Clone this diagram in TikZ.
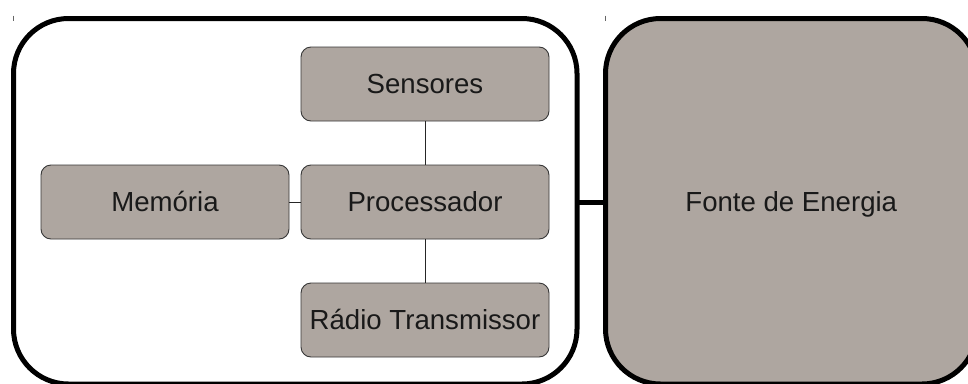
\documentclass[tikz,border=0pt]{standalone}
\usepackage{fontspec}
\setmainfont{Liberation Sans}
\definecolor{boxfill}{RGB}{174,166,160}
\definecolor{boxline}{RGB}{55,55,55}
\begin{document}
\begin{tikzpicture}[x=1pt,y=-1pt,
  outerbox/.style={draw=black, line width=5pt, rounded corners=55pt, outer sep=0pt, inner sep=0pt},
  labeltext/.style={font=\fontsize{27.6}{32}\selectfont, text=black!90, text height=19.8pt, text depth=0pt},
  innerbox/.style={draw=boxline, fill=boxfill, line width=0.9pt, rounded corners=10pt,
    minimum width=248pt, minimum height=74pt, outer sep=0pt, inner sep=0pt, labeltext},
  thinlink/.style={draw=black!85, line width=0.9pt},
  thicklink/.style={draw=black, line width=5pt},
  tick/.style={draw=black!60, line width=0.8pt}]
\useasboundingbox (0,0) rectangle (968,383);
\clip (0,0) rectangle (968,383);
\fill[white] (0,0) rectangle (968,383);
% outer containers
\node[outerbox, minimum width=563.5pt, minimum height=365.5pt] (node) at (295.25,201.25) {};
\node[outerbox, fill=boxfill, minimum width=371.5pt, minimum height=365.5pt, labeltext] (power) at (791.25,201.25) {Fonte de Energia};
% inner components
\node[innerbox] (sens) at (425,84) {Sensores};
\node[innerbox] (proc) at (425,202) {Processador};
\node[innerbox] (mem) at (165,202) {Memória};
\node[innerbox] (radio) at (425,320) {Rádio Transmissor};
% links
\draw[thinlink] (sens.south) -- (proc.north);
\draw[thinlink] (proc.south) -- (radio.north);
\draw[thinlink] (mem.east) -- (proc.west);
\draw[thicklink] (node.east |- proc.center) -- (power.west |- proc.center);
% corner ticks
\coordinate (t1a) at (13.5,15.5);
\coordinate (t1b) at (13.5,21);
\coordinate (t2a) at (605.7,15.5);
\coordinate (t2b) at (605.7,21);
\draw[tick] (t1a) -- (t1b);
\draw[tick] (t2a) -- (t2b);
\end{tikzpicture}
\end{document}
